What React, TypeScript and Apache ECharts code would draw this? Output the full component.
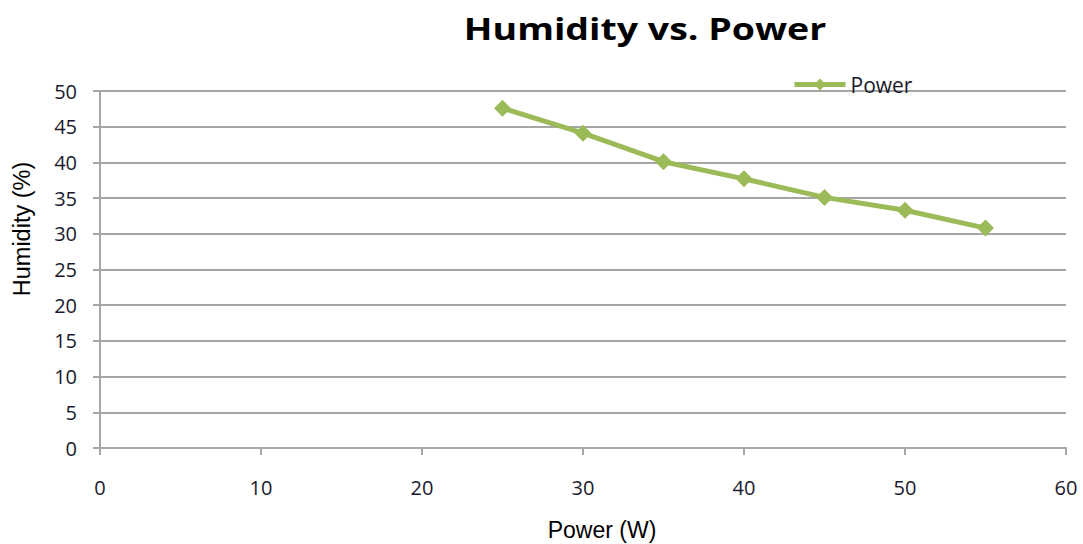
import React, { useEffect, useRef } from "react";
import * as echarts from "echarts";

const powerW = [25, 30, 35, 40, 45, 50, 55];
const humidity = [47.6, 44.1, 40.1, 37.7, 35.1, 33.3, 30.8];
const seriesName = "Power";
const titleText = "Humidity vs. Power";
const xName = "Power (W)";
const yName = "Humidity (%)";

export default function App() {
  const ref = useRef<HTMLDivElement>(null);
  useEffect(() => {
    const chart = echarts.init(ref.current!, null, { renderer: "svg" });
    const green = "#9BBB59";
    const grid = "#A6A6A6";
    const tickFont = { fontFamily: "Open Sans", fontSize: 20, color: "#1A1A2E" };
    chart.setOption({
      animation: false,
      graphic: [
        {
          type: "text",
          x: 645,
          y: 29,
          scaleX: 1.25,
          style: {
            text: titleText,
            x: 0,
            y: 0,
            align: "center",
            verticalAlign: "middle",
            fontFamily: "Open Sans",
            fontWeight: "bold",
            fontSize: 30,
            fill: "#000",
          },
        },
        {
          type: "text",
          x: 602,
          y: 530,
          style: {
            text: xName,
            align: "center",
            verticalAlign: "middle",
            fontFamily: "Liberation Sans",
            fontSize: 23,
            fill: "#000",
          },
        },
        {
          type: "text",
          x: 22,
          y: 229,
          rotation: Math.PI / 2,
          style: {
            text: yName,
            align: "center",
            verticalAlign: "middle",
            fontFamily: "Liberation Sans",
            fontSize: 23.5,
            fill: "#000",
          },
        },
      ],
      legend: {
        data: [seriesName],
        left: 792,
        top: 74,
        padding: 0,
        itemWidth: 51,
        itemHeight: 15,
        lineStyle: { width: 5 },
        textStyle: { fontFamily: "Open Sans", fontSize: 21, color: "#1A1A2E" },
      },
      grid: { left: 100, right: 17, top: 91, bottom: 96, containLabel: false, outerBoundsMode: "none" },
      xAxis: {
        type: "value",
        min: 0,
        max: 60,
        interval: 10,
        axisLine: { show: true, onZero: false, lineStyle: { color: grid, width: 2 } },
        axisTick: { show: true, length: 7, lineStyle: { color: grid, width: 2 } },
        axisLabel: { ...tickFont, margin: 29 },
        splitLine: { show: false },
      },
      yAxis: {
        type: "value",
        min: 0,
        max: 50,
        interval: 5,
        axisLine: { show: true, lineStyle: { color: grid, width: 2 } },
        axisTick: { show: true, length: 7, lineStyle: { color: grid, width: 2 } },
        axisLabel: { ...tickFont, margin: 23 },
        splitLine: { show: true, lineStyle: { color: grid, width: 2 } },
      },
      series: [
        {
          name: seriesName,
          type: "line",
          data: powerW.map((x, i) => [x, humidity[i]]),
          symbol: "diamond",
          symbolSize: 17,
          lineStyle: { color: green, width: 5 },
          itemStyle: { color: green },
        },
      ],
    });
    return () => chart.dispose();
  }, []);
  return <div ref={ref} style={{ width: 1083, height: 544, position: "absolute", left: 0, top: 0 }} />;
}
